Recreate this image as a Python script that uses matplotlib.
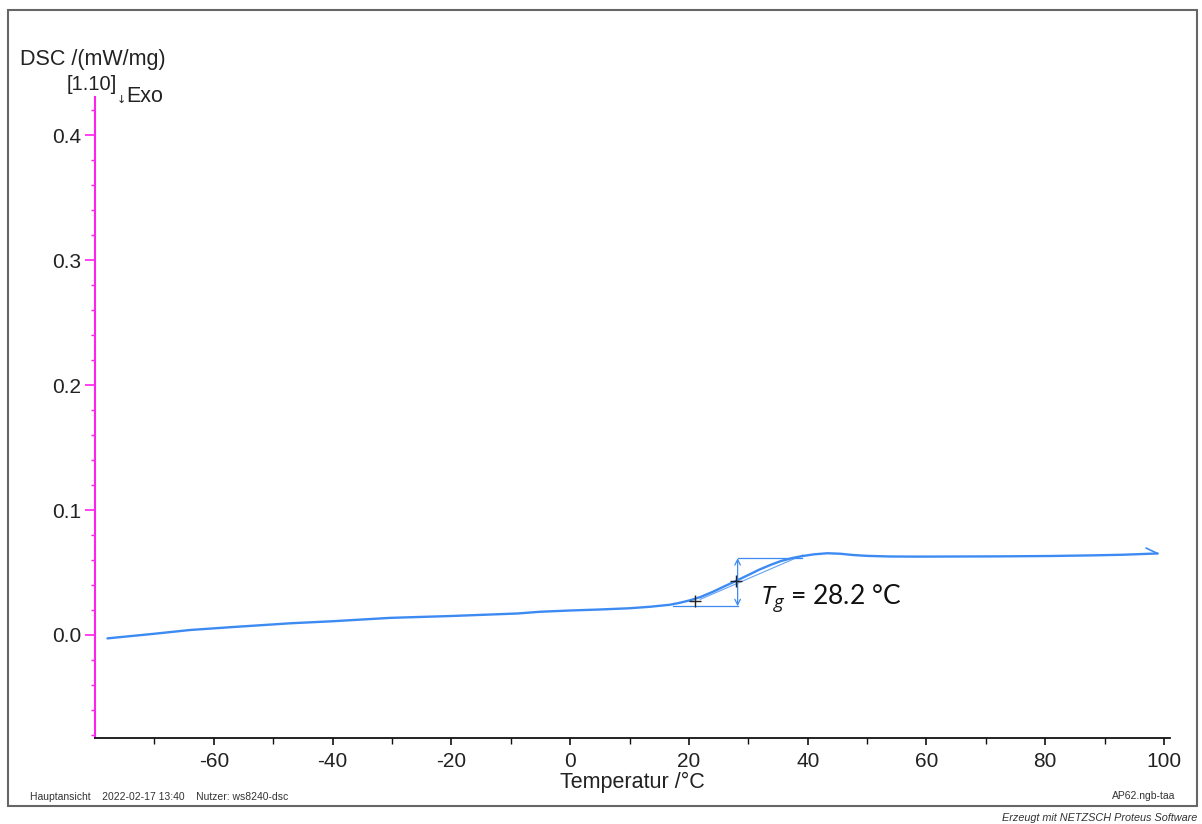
import matplotlib
matplotlib.use('Agg')
import matplotlib.pyplot as plt
from matplotlib.patches import Rectangle
from matplotlib.ticker import MultipleLocator, FixedLocator, FormatStrFormatter

plt.rcParams['font.family'] = ['Liberation Sans', 'DejaVu Sans']
plt.rcParams['axes.unicode_minus'] = False
plt.rcParams['mathtext.fontset'] = 'custom'
plt.rcParams['mathtext.it'] = 'Open Sans:italic'
plt.rcParams['mathtext.rm'] = 'Lato'

# DSC-Kurve
temp = [-77.9, -70, -64, -56.7, -47, -40, -30.3, -20, -8.9, -5, 0, 5, 10, 13.5,
        16.8, 18.5, 20.2, 22, 24, 26, 27.9, 30, 31.8, 33.7, 35.5, 37.5, 39.2,
        41, 43.3, 45.5, 47.6, 50, 54, 58.4, 65, 72, 80.8, 88, 93, 97.6, 98.9]
dsc = [-0.0027, 0.0010, 0.0040, 0.0064, 0.0094, 0.0110, 0.0137, 0.0152, 0.0172,
       0.0186, 0.0196, 0.0204, 0.0214, 0.0226, 0.0242, 0.0258, 0.0278, 0.0305,
       0.0345, 0.0390, 0.0432, 0.0480, 0.0522, 0.0560, 0.0592, 0.0617, 0.0632,
       0.0645, 0.0654, 0.0650, 0.0640, 0.0633, 0.0628, 0.0627, 0.0628, 0.0629,
       0.0632, 0.0637, 0.0642, 0.0650, 0.0652]

x_ticks = [-60, -40, -20, 0, 20, 40, 60, 80, 100]
x_minor = [-70, -50, -30, -10, 10, 30, 50, 70, 90]

# Tg-Auswertung
tg = 28.2
base_low = 0.023
base_high = 0.0615
low_line_x = [17.3, tg]
high_line_x = [tg, 39.0]
tangent_x = [21.9, 39.2]
tangent_y = [0.0285, 0.0640]
mark_x = [21.0, 27.9]
mark_y = [0.0275, 0.0432]
end_tick_x = [97.0, 98.9]
end_tick_y = [0.0695, 0.0652]

blue = '#3d8bf2'
W, H = 1202, 824

fig = plt.figure(figsize=(W / 100, H / 100), dpi=100)
ax = fig.add_axes([95 / W, 1 - 738 / H, (1170 - 95) / W, (738 - 97) / H])

ax.plot(temp, dsc, color=blue, lw=1.7, solid_capstyle='round', zorder=3)
ax.plot(end_tick_x, end_tick_y, color=blue, lw=1.2)

# Konstruktionslinien
ax.plot(low_line_x, [base_low, base_low], color=blue, lw=0.9)
ax.plot(high_line_x, [base_high, base_high], color=blue, lw=0.9)
ax.plot(tangent_x, tangent_y, color=blue, lw=0.8, alpha=0.8)
ax.annotate('', xy=(tg, base_high), xytext=(tg, base_low),
            arrowprops=dict(arrowstyle='<->', color=blue, lw=0.9,
                            shrinkA=0, shrinkB=0, mutation_scale=10))
ax.plot(mark_x, mark_y, '+', color='#222222', ms=9, mew=1.0, zorder=4)
ax.text(32.0, 0.0300, r'$T_g$ = 28.2 °C', fontsize=19, family='Lato',
        va='center', ha='left', color='#111111')

ax.set_xlim(-80, 101)
ax.set_ylim(-0.0824, 0.4304)

ax.spines['top'].set_visible(False)
ax.spines['right'].set_visible(False)
ax.spines['left'].set_color('#ff22ee')
ax.spines['left'].set_linewidth(1.5)
ax.spines['bottom'].set_color('#111111')
ax.spines['bottom'].set_linewidth(1.3)

ax.xaxis.set_major_locator(FixedLocator(x_ticks))
ax.xaxis.set_minor_locator(FixedLocator(x_minor))
ax.yaxis.set_major_locator(MultipleLocator(0.1))
ax.yaxis.set_minor_locator(MultipleLocator(0.02))
ax.yaxis.set_major_formatter(FormatStrFormatter('%.1f'))

ax.tick_params(axis='x', which='major', length=5, width=1.2, color='#111111',
               labelsize=15, pad=5, labelcolor='#222222')
ax.tick_params(axis='x', which='minor', length=4, width=1.0, color='#111111')
ax.tick_params(axis='y', which='major', length=7, width=1.2, color='#ff22ee',
               labelsize=15, pad=3, labelcolor='#222222')
ax.tick_params(axis='y', which='minor', length=3, width=1.0, color='#ff22ee')

ax.set_xlabel('Temperatur /°C', fontsize=15.5, labelpad=1, color='#222222')


def ftext(x, y, s, **kw):
    fig.text(x / W, 1 - y / H, s, **kw)


ftext(20, 60, 'DSC /(mW/mg)', fontsize=15.5, va='center', color='#222222')
ftext(67, 85, '[1.10]', fontsize=14.5, va='center', color='#222222')
ftext(117, 100, '↓', fontsize=8, va='center', color='#222222', family='DejaVu Sans')
ftext(126, 96, 'Exo', fontsize=15.5, va='center', color='#222222')

ftext(30, 797, 'Hauptansicht    2022-02-17 13:40    Nutzer: ws8240-dsc',
      fontsize=7.5, va='center', color='#333333')
ftext(1175, 796, 'AP62.ngb-taa', fontsize=7.5, va='center', ha='right', color='#333333')
ftext(1197, 818, 'Erzeugt mit NETZSCH Proteus Software', fontsize=7.8,
      va='center', ha='right', style='italic', color='#333333')

fig.patches.append(Rectangle((8 / W, 1 - 806 / H), (1197 - 8) / W, (806 - 10) / H,
                             transform=fig.transFigure, fill=False,
                             edgecolor='#666666', lw=1.5))

fig.savefig('out.png', dpi=100)
